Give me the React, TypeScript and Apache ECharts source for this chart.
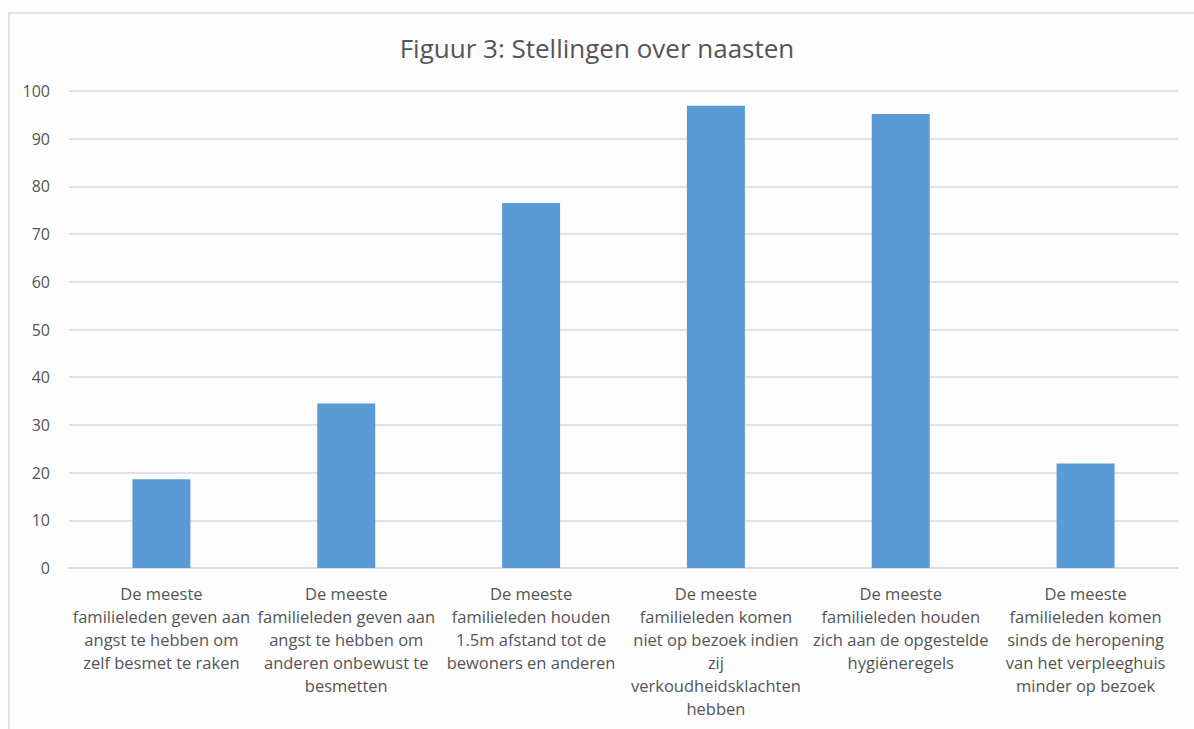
import React, { useEffect, useRef } from "react";
import * as echarts from "echarts";

const chartTitle = "Figuur 3: Stellingen over naasten";

const categories = [
  "De meeste\nfamilieleden geven aan\nangst te hebben om\nzelf besmet te raken",
  "De meeste\nfamilieleden geven aan\nangst te hebben om\nanderen onbewust te\nbesmetten",
  "De meeste\nfamilieleden houden\n1.5m afstand tot de\nbewoners en anderen",
  "De meeste\nfamilieleden komen\nniet op bezoek indien\nzij\nverkoudheidsklachten\nhebben",
  "De meeste\nfamilieleden houden\nzich aan de opgestelde\nhygiëneregels",
  "De meeste\nfamilieleden komen\nsinds de heropening\nvan het verpleeghuis\nminder op bezoek",
];

const values = [18.6, 34.5, 76.5, 96.9, 95.2, 21.9];

const yMin = 0;
const yMax = 100;
const yInterval = 10;

const textColor = "#555555";
const gridColor = "#d9d9d9";
const barColor = "#5b9bd5";
const fontFamily = "'Open Sans', 'Liberation Sans', sans-serif";

export default function App() {
  const ref = useRef<HTMLDivElement>(null);

  useEffect(() => {
    if (!ref.current) return;
    const chart = echarts.init(ref.current, null, { renderer: "svg" });
    chart.setOption({
      animation: false,
      backgroundColor: "#fdfdfd",
      title: {
        text: chartTitle,
        left: "center",
        top: 30,
        textStyle: {
          color: textColor,
          fontSize: 26,
          fontWeight: "normal",
          fontFamily,
        },
      },
      graphic: [
        {
          type: "rect",
          shape: { x: 9, y: 13, width: 1210, height: 760 },
          style: { fill: "none", stroke: gridColor, lineWidth: 1.5 },
          silent: true,
        },
      ],
      grid: { left: 69, right: 16, top: 91, bottom: 161, containLabel: false },
      xAxis: {
        type: "category",
        data: categories,
        axisLine: { show: true, lineStyle: { color: gridColor, width: 1.5 } },
        axisTick: { show: false },
        axisLabel: {
          interval: 0,
          hideOverlap: false,
          color: textColor,
          fontSize: 16.5,
          lineHeight: 23,
          margin: 14,
          fontFamily,
          align: "center",
        },
      },
      yAxis: {
        type: "value",
        min: yMin,
        max: yMax,
        interval: yInterval,
        axisLine: { show: false },
        axisTick: { show: false },
        splitLine: { show: true, lineStyle: { color: gridColor, width: 1.5 } },
        axisLabel: {
          color: textColor,
          fontSize: 16,
          margin: 19,
          fontFamily,
        },
      },
      series: [
        {
          type: "bar",
          data: values,
          barWidth: 58,
          itemStyle: { color: barColor },
        },
      ],
    });
    return () => chart.dispose();
  }, []);

  return (
    <div
      ref={ref}
      style={{ position: "fixed", left: 0, top: 0, width: 1194, height: 729 }}
    />
  );
}
